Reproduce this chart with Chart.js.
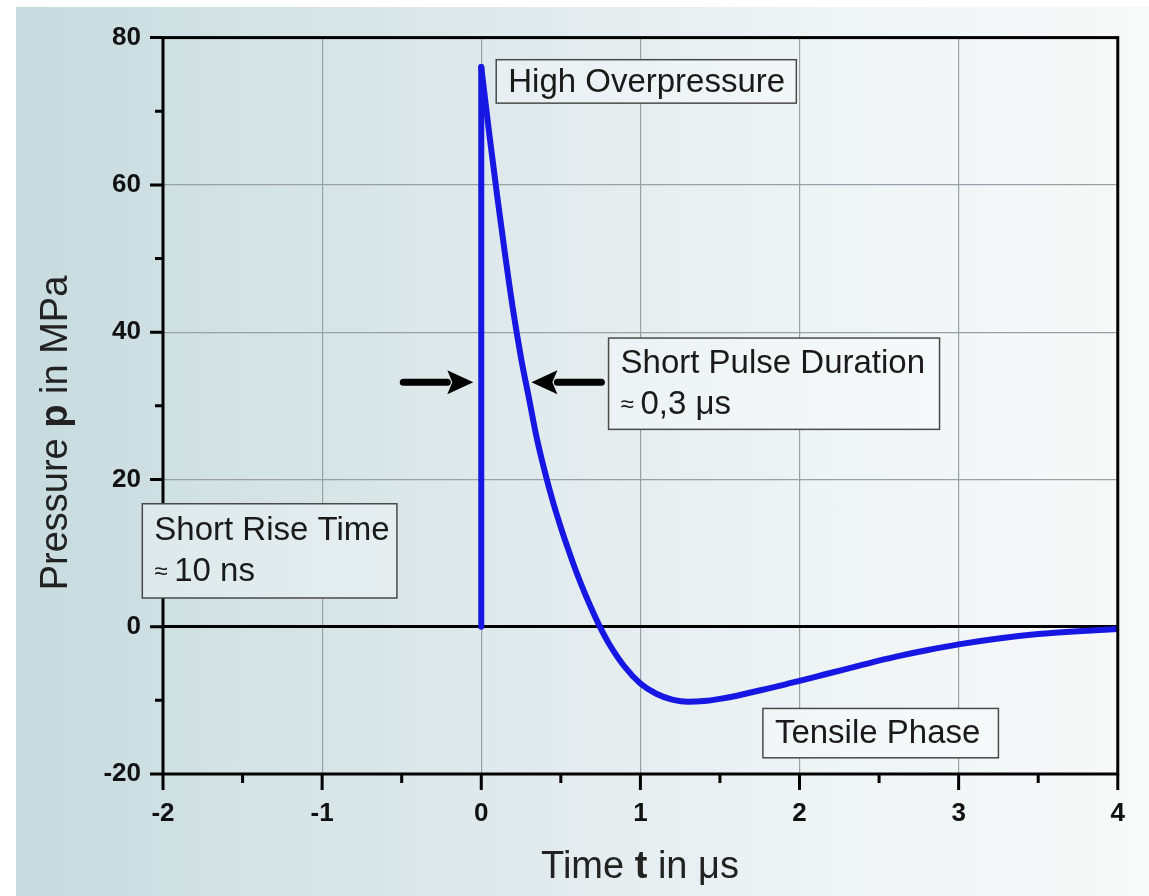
<!DOCTYPE html>
<html>
<head>
<meta charset="utf-8">
<script src="https://cdn.jsdelivr.net/npm/chart.js@4.4.1/dist/chart.umd.min.js"></script>
<style>
    html, body { margin: 0; padding: 0; background: #fff; }
    #wrap { position: relative; width: 1149px; height: 896px; overflow: hidden; }
    #bg {
        position: absolute; left: 16px; top: 7px; right: 0; bottom: 0;
        background: linear-gradient(to right, #c7dbde 0%, #d4e3e6 22%, #e2ebed 48%, #eff4f5 72%, #f8f9f9 100%);
    }
    canvas { position: absolute; left: 0; top: 0; }
</style>
</head>
<body>
<div id="wrap"><div id="bg"></div><canvas id="pulseChart" width="1149" height="896"></canvas></div>
<script>
// values (time in µs, pressure in MPa)
const riseTime = [0, 0];
const risePressure = [0, 76];

const pulseTime = [0, 0.05, 0.10, 0.15, 0.20, 0.25, 0.30, 0.35, 0.40, 0.45, 0.50, 0.55, 0.60, 0.65, 0.70,
    0.75, 0.80, 0.90, 1.00, 1.10, 1.20, 1.30, 1.40, 1.50, 1.60, 1.70, 1.80, 1.90, 2.00, 2.10, 2.20,
    2.40, 2.60, 2.80, 3.00, 3.25, 3.50, 3.75, 4.00];
const pulsePressure = [76, 67, 58.5, 50.5, 43, 36.5, 31, 25.5, 21, 17, 13.5, 10.3, 7.3, 4.6, 2.1,
    -0.2, -2.2, -5.4, -7.7, -9.1, -9.9, -10.2, -10.1, -9.8, -9.4, -8.9, -8.4, -7.9, -7.35, -6.8, -6.25,
    -5.15, -4.1, -3.2, -2.4, -1.6, -1.0, -0.6, -0.3];

const xTickValues = [-2, -1, 0, 1, 2, 3, 4];
const xMinorTicks = [-1.5, -0.5, 0.5, 1.5, 2.5, 3.5];
const yTickValues = [-20, 0, 20, 40, 60, 80];
const yMinorTicks = [-10, 10, 30, 50, 70];

const FONT = '"Liberation Sans", Arial, sans-serif';
const textFont = '33px ' + FONT;
const approxFont = '24px ' + FONT;
const titleSize = 38;

// annotation boxes, in data coordinates
const notes = [
    { x0: 0.094, x1: 1.98, y0: 77.0, y1: 71.1,
      lines: [[{ text: 'High Overpressure', font: textFont }]] },
    { x0: 0.80, x1: 2.88, y0: 39.2, y1: 26.8,
      lines: [[{ text: 'Short Pulse Duration', font: textFont }],
              [{ text: '≈ ', font: approxFont }, { text: '0,3 μs', font: textFont }]] },
    { x0: -2.13, x1: -0.53, y0: 16.7, y1: 3.9,
      lines: [[{ text: 'Short Rise Time', font: textFont }],
              [{ text: '≈ ', font: approxFont }, { text: '10 ns', font: textFont }]] },
    { x0: 1.77, x1: 3.25, y0: -11.1, y1: -17.8,
      lines: [[{ text: 'Tensile Phase', font: textFont }]] }
];

const arrows = [
    { from: -0.49, to: -0.05, y: 33.2 },
    { from: 0.755, to: 0.315, y: 33.2 }
];

function drawRuns(ctx, runs, x, y, align) {
    let total = 0;
    runs.forEach(r => { ctx.font = r.font; r.w = ctx.measureText(r.text).width; total += r.w; });
    let cx = align === 'center' ? x - total / 2 : x;
    ctx.textAlign = 'left';
    ctx.textBaseline = 'middle';
    runs.forEach(r => { ctx.font = r.font; ctx.fillText(r.text, cx, y); cx += r.w; });
}

const decorPlugin = {
    id: 'decor',
    afterDraw(chart) {
        const ctx = chart.ctx;
        const a = chart.chartArea;
        const xs = chart.scales.x;
        const ys = chart.scales.y;
        ctx.save();

        // frame
        ctx.strokeStyle = '#000';
        ctx.lineWidth = 3;
        ctx.strokeRect(a.left, a.top, a.right - a.left, a.bottom - a.top);

        // tick marks
        ctx.beginPath();
        xTickValues.forEach(v => { const px = xs.getPixelForValue(v); ctx.moveTo(px, a.bottom); ctx.lineTo(px, a.bottom + 16); });
        xMinorTicks.forEach(v => { const px = xs.getPixelForValue(v); ctx.moveTo(px, a.bottom); ctx.lineTo(px, a.bottom + 9); });
        yTickValues.forEach(v => { const py = ys.getPixelForValue(v); ctx.moveTo(a.left, py); ctx.lineTo(a.left - 13, py); });
        yMinorTicks.forEach(v => { const py = ys.getPixelForValue(v); ctx.moveTo(a.left, py); ctx.lineTo(a.left - 8, py); });
        ctx.stroke();

        // arrows
        ctx.fillStyle = '#000';
        arrows.forEach(ar => {
            const x1 = xs.getPixelForValue(ar.from);
            const x2 = xs.getPixelForValue(ar.to);
            const py = ys.getPixelForValue(ar.y);
            const dir = Math.sign(x2 - x1);
            const head = 26;
            ctx.lineWidth = 7;
            ctx.lineCap = 'round';
            ctx.beginPath();
            ctx.moveTo(x1, py);
            ctx.lineTo(x2 - dir * head, py);
            ctx.stroke();
            ctx.beginPath();
            ctx.moveTo(x2, py);
            ctx.lineTo(x2 - dir * head, py - 12);
            ctx.lineTo(x2 - dir * (head - 5), py);
            ctx.lineTo(x2 - dir * head, py + 12);
            ctx.closePath();
            ctx.fill();
        });

        // annotation boxes (opaque, tinted like the background)
        const bgGrad = ctx.createLinearGradient(16, 0, 1149, 0);
        bgGrad.addColorStop(0, '#c7dbde');
        bgGrad.addColorStop(0.22, '#d4e3e6');
        bgGrad.addColorStop(0.48, '#e2ebed');
        bgGrad.addColorStop(0.72, '#eff4f5');
        bgGrad.addColorStop(1, '#f8f9f9');
        notes.forEach(n => {
            const left = xs.getPixelForValue(n.x0);
            const right = xs.getPixelForValue(n.x1);
            const top = ys.getPixelForValue(n.y0);
            const bottom = ys.getPixelForValue(n.y1);
            ctx.fillStyle = bgGrad;
            ctx.fillRect(left, top, right - left, bottom - top);
            ctx.fillStyle = 'rgba(255,255,255,0.3)';
            ctx.fillRect(left, top, right - left, bottom - top);
            ctx.strokeStyle = '#4a4a4a';
            ctx.lineWidth = 1.5;
            ctx.strokeRect(left, top, right - left, bottom - top);
            ctx.fillStyle = '#1a1a1a';
            const mid = (top + bottom) / 2;
            const gap = 41;
            n.lines.forEach((runs, i) => {
                const py = mid + (i - (n.lines.length - 1) / 2) * gap + 1;
                drawRuns(ctx, runs, left + 12, py, 'left');
            });
        });

        // axis titles
        ctx.fillStyle = '#222';
        drawRuns(ctx, [
            { text: 'Time ', font: titleSize + 'px ' + FONT },
            { text: 't', font: 'bold ' + titleSize + 'px ' + FONT },
            { text: ' in μs', font: titleSize + 'px ' + FONT }
        ], 640, 868, 'center');
        ctx.translate(57, 433);
        ctx.rotate(-Math.PI / 2);
        drawRuns(ctx, [
            { text: 'Pressure ', font: titleSize + 'px ' + FONT },
            { text: 'p', font: 'bold ' + titleSize + 'px ' + FONT },
            { text: ' in MPa', font: titleSize + 'px ' + FONT }
        ], 0, 0, 'center');

        ctx.restore();
    }
};

const gridColor = ctx => ctx.tick && ctx.tick.value === 0 ? '#000' : '#98a1a3';
const gridWidth = ctx => ctx.tick && ctx.tick.value === 0 ? 3 : 1.2;

new Chart(document.getElementById('pulseChart'), {
    type: 'line',
    data: {
        datasets: [
            {
                label: 'rise',
                data: riseTime.map((t, i) => ({ x: t, y: risePressure[i] })),
                borderColor: '#1717e3',
                borderWidth: 6,
                borderCapStyle: 'round',
                pointRadius: 0,
                tension: 0
            },
            {
                label: 'pulse',
                data: pulseTime.map((t, i) => ({ x: t, y: pulsePressure[i] })),
                borderColor: '#1717e3',
                borderWidth: 6,
                borderCapStyle: 'round',
                borderJoinStyle: 'round',
                pointRadius: 0,
                cubicInterpolationMode: 'monotone'
            }
        ]
    },
    options: {
        responsive: false,
        animation: false,
        devicePixelRatio: 1,
        layout: { padding: { left: 0, top: 35, right: 31, bottom: 0 } },
        plugins: { legend: { display: false }, tooltip: { enabled: false } },
        scales: {
            x: {
                type: 'linear',
                min: -2,
                max: 4,
                afterBuildTicks: s => { s.ticks = xTickValues.map(v => ({ value: v })); },
                afterFit: s => { s.height = 122; },
                border: { display: false },
                grid: { color: '#98a1a3', lineWidth: 1.2, drawTicks: false },
                ticks: {
                    padding: 24,
                    color: '#111',
                    font: { family: FONT, size: 26, weight: 'bold' },
                    callback: v => v
                }
            },
            y: {
                min: -20,
                max: 80,
                afterBuildTicks: s => { s.ticks = yTickValues.map(v => ({ value: v })); },
                afterFit: s => { s.width = 163; },
                border: { display: false },
                grid: { color: gridColor, lineWidth: gridWidth, drawTicks: false },
                ticks: {
                    padding: 22,
                    color: '#111',
                    font: { family: FONT, size: 26, weight: 'bold' },
                    callback: v => v
                }
            }
        }
    },
    plugins: [decorPlugin]
});
</script>
</body>
</html>
